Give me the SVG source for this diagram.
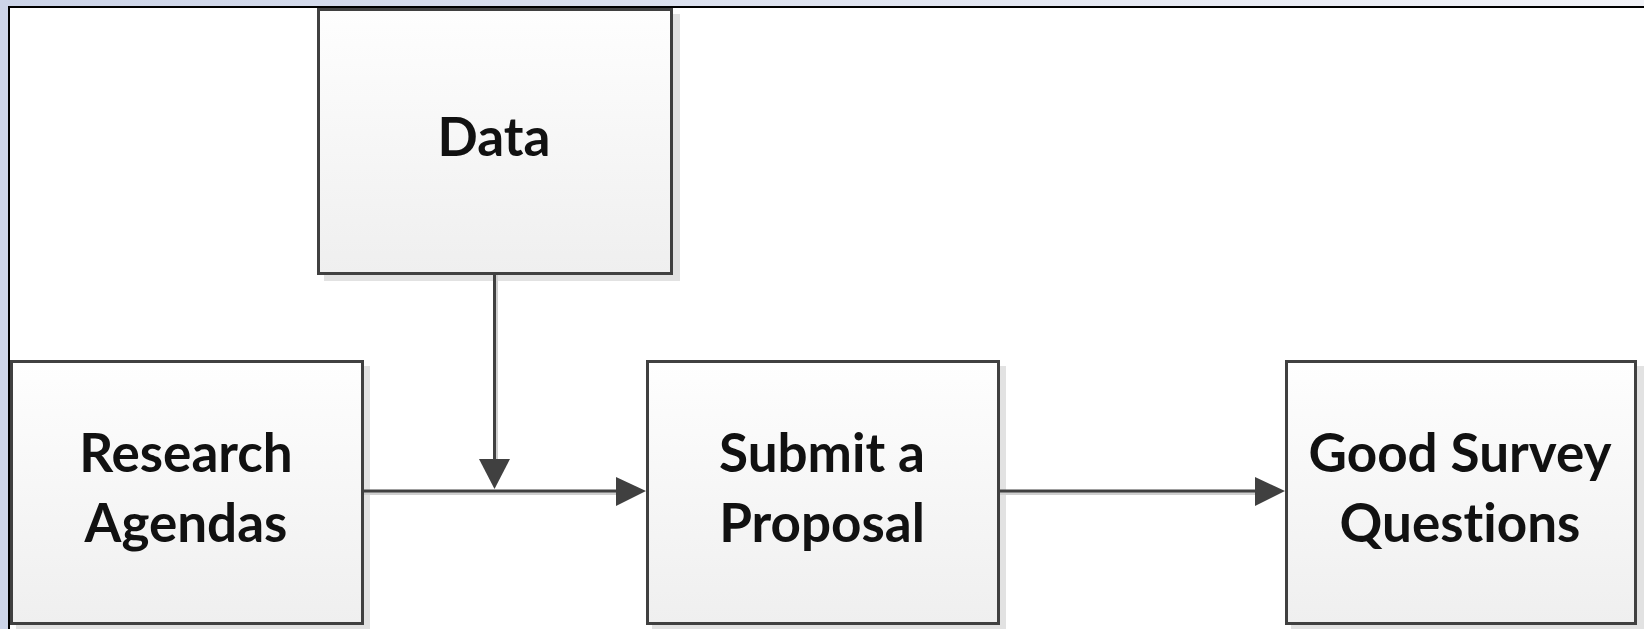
<svg xmlns="http://www.w3.org/2000/svg" width="1644" height="629" viewBox="0 0 1644 629">
  <defs>
    <linearGradient id="frameGrad" x1="0" y1="0" x2="1" y2="0">
      <stop offset="0" stop-color="#ccd4e8"/>
      <stop offset="1" stop-color="#f2f3f8"/>
    </linearGradient>
    <linearGradient id="boxGrad" x1="0" y1="0" x2="0" y2="1">
      <stop offset="0" stop-color="#fefefe"/>
      <stop offset="1" stop-color="#efefef"/>
    </linearGradient>
  </defs>
  <style>
    .box { fill: url(#boxGrad); stroke: #404040; stroke-width: 3; }
    .shadow { fill: #e2e2e2; }
    .label { font-family: Lato, "Liberation Sans", sans-serif; font-weight: bold; font-size: 53px; fill: #111111; text-anchor: middle; font-variant-ligatures: none; }
    .edge { fill: none; stroke: #404040; stroke-width: 3; }
    .edge-shadow { fill: none; stroke: #cfcfcf; stroke-width: 3; }
    .head { fill: #404040; }
  </style>

  <!-- window frame -->
  <rect x="0" y="0" width="1644" height="629" fill="url(#frameGrad)"/>
  <rect x="9" y="7" width="1635" height="622" fill="#ffffff"/>
  <line x1="9" y1="6" x2="9" y2="629" stroke="#000000" stroke-width="2"/>
  <line x1="8" y1="7" x2="1644" y2="7" stroke="#000000" stroke-width="2"/>

  <!-- Data -->
  <g id="node-data">
    <rect class="shadow" x="324" y="14" width="356" height="267"/>
    <rect class="box" x="318.5" y="9.5" width="353" height="264"/>
    <text class="label" x="494" y="156">Data</text>
  </g>

  <!-- Research Agendas -->
  <g id="node-research">
    <rect class="shadow" x="16" y="366" width="354" height="263"/>
    <rect class="box" x="11.5" y="361.5" width="351" height="262"/>
    <text class="label" x="186" y="472">Research</text>
    <text class="label" x="186" y="542">Agendas</text>
  </g>

  <!-- Submit a Proposal -->
  <g id="node-submit">
    <rect class="shadow" x="652" y="366" width="354" height="263"/>
    <rect class="box" x="647.5" y="361.5" width="351" height="262"/>
    <text class="label" x="822" y="472">Submit a</text>
    <text class="label" x="822" y="542">Proposal</text>
  </g>

  <!-- Good Survey Questions -->
  <g id="node-good">
    <rect class="shadow" x="1291" y="366" width="353" height="263"/>
    <rect class="box" x="1286.5" y="361.5" width="349" height="262"/>
    <text class="label" x="1460" y="472">Good Survey</text>
    <text class="label" x="1460" y="542">Questions</text>
  </g>

  <!-- connectors, drawn over the box shadows -->
  <g id="connectors">
    <path class="edge-shadow" d="M364,493.5 H617"/>
    <path class="edge-shadow" d="M496.5,275 V459"/>
    <path class="edge-shadow" d="M1000,493.5 H1256"/>
    <path class="edge" d="M364,491 H618"/>
    <polygon class="head" points="616,477 646,491 616,506"/>
    <path class="edge" d="M494.5,275 V460"/>
    <polygon class="head" points="479,459 494.5,489 510,459"/>
    <path class="edge" d="M1000,491 H1257"/>
    <polygon class="head" points="1255,477 1285,491 1255,506"/>
  </g>
</svg>
